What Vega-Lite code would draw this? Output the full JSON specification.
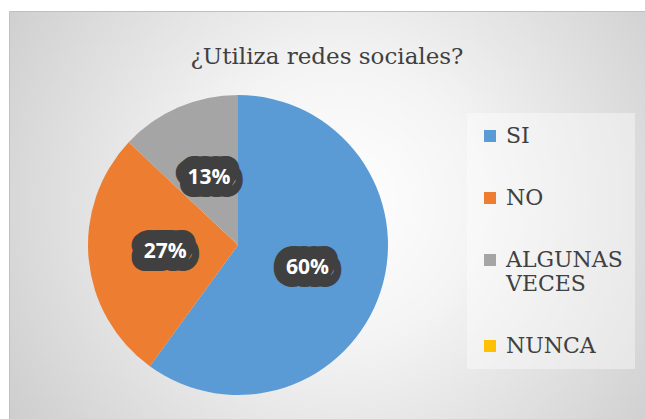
{
  "$schema": "https://vega.github.io/schema/vega-lite/v6.json",
  "width": 636,
  "height": 408,
  "autosize": {"type": "none"},
  "padding": {"left": 9, "top": 11, "right": 0, "bottom": 0},
  "background": "#ffffff",
  "title": {
    "text": "¿Utiliza redes sociales?",
    "font": "DejaVu Serif",
    "fontSize": 23,
    "fontWeight": "normal",
    "color": "#404040",
    "anchor": "middle",
    "frame": "group",
    "baseline": "alphabetic",
    "offset": -76
  },
  "view": {
    "fill": {
      "gradient": "radial",
      "x1": 0.52, "y1": 0.48, "r1": 0,
      "x2": 0.52, "y2": 0.48, "r2": 0.72,
      "stops": [
        {"offset": 0, "color": "#ffffff"},
        {"offset": 0.3, "color": "#f4f4f4"},
        {"offset": 1, "color": "#c4c4c4"}
      ]
    },
    "stroke": "#c0c0c0"
  },
  "data": {
    "values": [
      {"categoria": "SI", "valor": 0.60, "orden": 1},
      {"categoria": "NO", "valor": 0.27, "orden": 2},
      {"categoria": "ALGUNAS VECES", "valor": 0.13, "orden": 3},
      {"categoria": "NUNCA", "valor": 0.0, "orden": 4}
    ]
  },
  "encoding": {
    "theta": {"field": "valor", "type": "quantitative", "stack": true},
    "order": {"field": "orden", "type": "quantitative"}
  },
  "layer": [
    {
      "mark": {"type": "arc", "outerRadius": 150, "xOffset": -89, "yOffset": 30, "stroke": null},
      "encoding": {
        "color": {
          "field": "categoria",
          "type": "nominal",
          "scale": {
            "domain": ["SI", "NO", "ALGUNAS VECES", "NUNCA"],
            "range": ["#5B9BD5", "#ED7D31", "#A5A5A5", "#FFC000"]
          },
          "legend": {
            "title": null,
            "orient": "none",
            "legendX": 458,
            "legendY": 102,
            "symbolType": "square",
            "symbolSize": 144,
            "symbolStrokeWidth": 0,
            "labelFont": "DejaVu Serif",
            "labelFontSize": 22,
            "labelColor": "#404040",
            "labelOffset": 5,
            "rowPadding": 40,
            "padding": 12,
            "fillColor": "rgba(255,255,255,0.4)",
            "labelExpr": "datum.label == 'ALGUNAS VECES' ? ['ALGUNAS', 'VECES'] : datum.label"
          }
        }
      }
    },
    {
      "transform": [{"filter": "datum.valor > 0"}],
      "mark": {"type": "text", "radius": 73, "xOffset": -89, "yOffset": 30, "font": "Open Sans", "fontWeight": "bold", "fontSize": 21, "fill": "#404040", "stroke": "#404040", "strokeWidth": 26, "strokeJoin": "round", "baseline": "middle", "align": "center"},
      "encoding": {"text": {"field": "valor", "type": "quantitative", "format": ".0%"}}
    },
    {
      "transform": [{"filter": "datum.valor > 0"}],
      "mark": {"type": "text", "radius": 73, "xOffset": -89, "yOffset": 30, "font": "Open Sans", "fontWeight": "bold", "fontSize": 21, "fill": "#ffffff", "baseline": "middle", "align": "center"},
      "encoding": {"text": {"field": "valor", "type": "quantitative", "format": ".0%"}}
    }
  ]
}
